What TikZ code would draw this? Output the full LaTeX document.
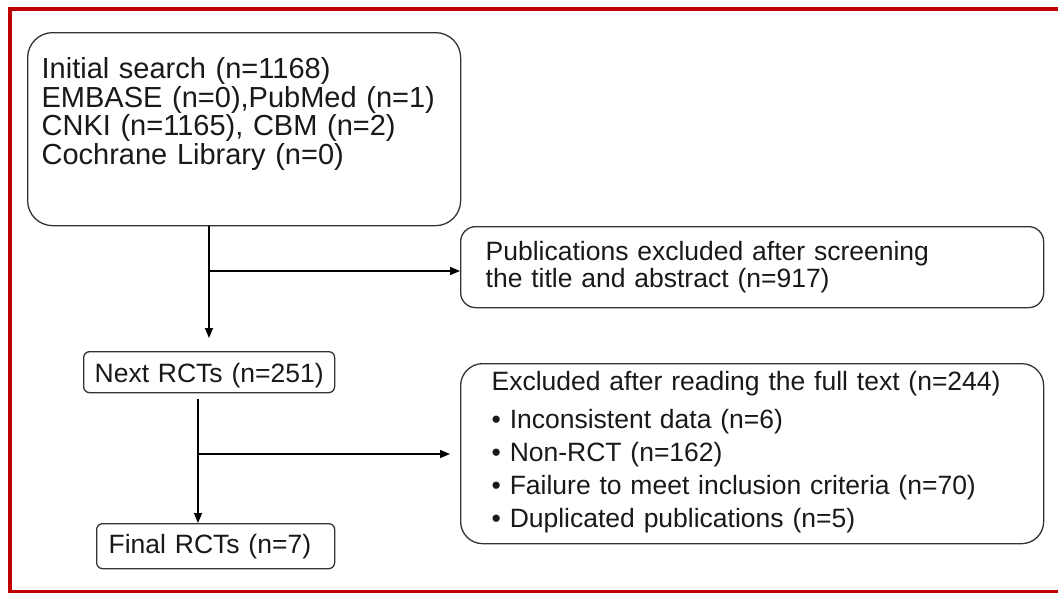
\documentclass[tikz,border=0pt]{standalone}
\usepackage{fontspec}
\setmainfont{Liberation Sans}
\usetikzlibrary{arrows.meta}
\definecolor{framered}{RGB}{192,0,0}

\begin{document}
\begin{tikzpicture}[x=1pt,y=-1pt,
	box/.style={draw=black!80,line width=1.3pt,fill=white,inner ysep=0pt,align=left,text=black!90},
	bigtext/.style={font=\fontsize{29}{28.5}\selectfont},
	midtext/.style={font=\fontsize{26.5}{27}\selectfont},
	>={Triangle[length=10pt,width=8pt]},
	link/.style={->,line width=1.3pt}]
	\useasboundingbox (0,0) rectangle (1058,592);
	% frame
	\draw[line width=4pt,framered] (10,600) -- (10,9) -- (1070,9);
	\draw[line width=3pt,framered] (8,591.5) -- (1070,591.5);
	% boxes
	\node[box,bigtext,rounded corners=25pt,anchor=north west,inner xsep=14pt,
		text width=405pt,text height=46pt,text depth=147pt] (search) at (27,32)
		{Initial search (n=1168)\\EMBASE (n=0),PubMed (n=1)\\CNKI (n=1165), CBM (n=2)\\Cochrane Library (n=0)};
	\node[box,midtext,rounded corners=15pt,anchor=north west,inner xsep=25pt,
		text width=533pt,text height=34pt,text depth=47pt] (screen) at (460,226)
		{Publications excluded after screening\\the title and abstract (n=917)};
	\node[box,midtext,rounded corners=6pt,anchor=north west,inner xsep=8pt,align=center,
		text width=235pt,text height=31pt,text depth=10pt] (next) at (83,351)
		{Next RCTs (n=251)};
	\node[box,midtext,rounded corners=22pt,anchor=north west,inner xsep=31pt,
		text width=521pt,text height=27pt,text depth=153pt,font=\fontsize{26.5}{33}\selectfont] (fulltext) at (460,363)
		{Excluded after reading the full text (n=244)\\[5pt]
		• Inconsistent data (n=6)\\
		• Non-RCT (n=162)\\
		• Failure to meet inclusion criteria (n=70)\\
		• Duplicated publications (n=5)};
	\node[box,midtext,rounded corners=6pt,anchor=north west,inner xsep=12pt,
		text width=214pt,text height=30pt,text depth=15pt] (final) at (96,523)
		{Final RCTs (n=7)};
	% arrows
	\coordinate (split1) at (209,271);
	\coordinate (split2) at (198,454);
	\draw[link,shorten >=13pt] (search.south -| split1) -- (next.north -| split1);
	\draw[link] (split1) -- (split1 -| screen.west);
	\draw[link,shorten <=6pt] (next.south -| split2) -- (final.north -| split2);
	\draw[link,shorten >=10pt] (split2) -- (split2 -| fulltext.west);
\end{tikzpicture}
\end{document}
